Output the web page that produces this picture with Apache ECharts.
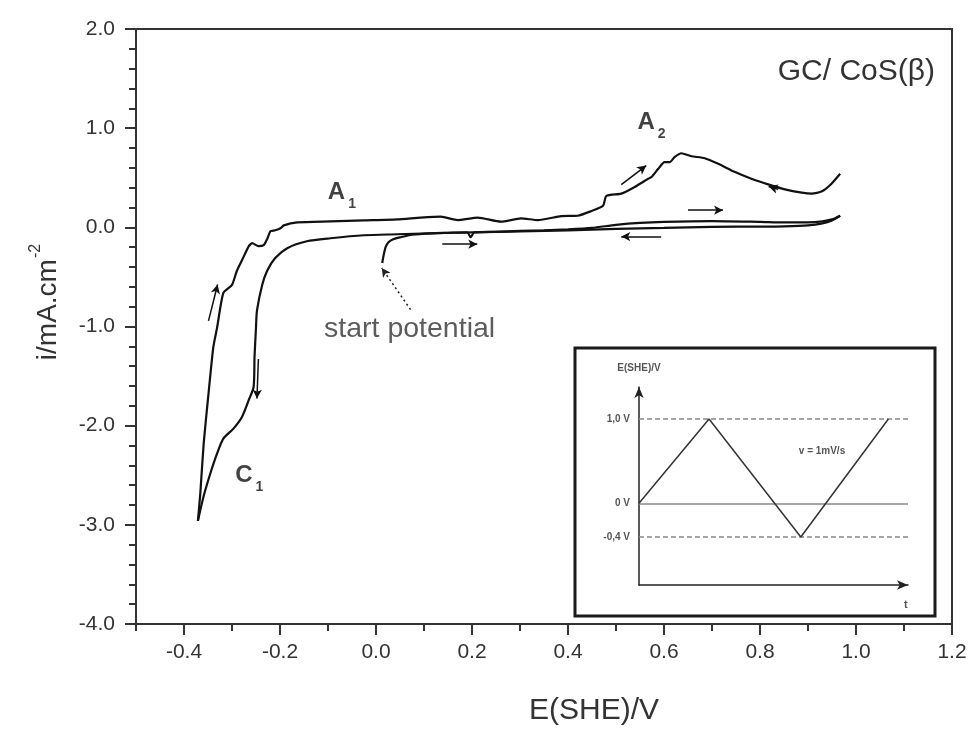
<!DOCTYPE html>
<html>
<head>
<meta charset="utf-8">
<script src="https://cdn.jsdelivr.net/npm/echarts@6/dist/echarts.min.js"></script>
<style>
  html, body { margin: 0; padding: 0; background: #fff; }
  #chart { width: 972px; height: 731px; }
</style>
</head>
<body>
<div id="chart"></div>
<script>
// Cyclic voltammogram of GC/CoS(beta), potentials vs SHE (V), current density (mA/cm2)

// 1st anodic sweep: start potential -> +0.97 V
const sweep1E = [0.013, 0.016, 0.020, 0.026, 0.036, 0.051, 0.075, 0.114, 0.150, 0.190, 0.197, 0.205, 0.250, 0.300, 0.350, 0.400, 0.450, 0.500, 0.550, 0.600, 0.700, 0.800, 0.850, 0.900, 0.930, 0.950, 0.967];
const sweep1I = [-0.36, -0.28, -0.20, -0.15, -0.12, -0.10, -0.075, -0.06, -0.055, -0.05, -0.10, -0.05, -0.045, -0.035, -0.03, -0.02, -0.005, 0.025, 0.045, 0.055, 0.062, 0.055, 0.05, 0.05, 0.06, 0.08, 0.117];

// cathodic sweep: +0.97 V -> -0.37 V (peak C1)
const sweep2E = [0.967, 0.950, 0.930, 0.900, 0.850, 0.800, 0.700, 0.600, 0.500, 0.400, 0.300, 0.200, 0.114, 0.044, -0.025, -0.095, -0.144, -0.185, -0.210, -0.227, -0.237, -0.248, -0.250, -0.253, -0.255, -0.265, -0.279, -0.297, -0.318, -0.331, -0.345, -0.359, -0.371];
const sweep2I = [0.117, 0.07, 0.04, 0.02, 0.01, 0.007, 0.005, -0.005, -0.015, -0.03, -0.04, -0.05, -0.06, -0.07, -0.08, -0.11, -0.14, -0.21, -0.31, -0.44, -0.58, -0.84, -1.01, -1.30, -1.61, -1.74, -1.91, -2.03, -2.13, -2.28, -2.48, -2.71, -2.96];

// 2nd anodic sweep: -0.37 V -> +0.97 V (peaks A1, A2)
const sweep3E = [-0.371, -0.366, -0.359, -0.349, -0.339, -0.331, -0.318, -0.300, -0.290, -0.279, -0.265, -0.258, -0.245, -0.234, -0.226, -0.220, -0.210, -0.199, -0.192, -0.164, -0.095, -0.025, 0.044, 0.093, 0.135, 0.170, 0.212, 0.260, 0.302, 0.337, 0.386, 0.420, 0.448, 0.473, 0.480, 0.511, 0.539, 0.567, 0.574, 0.588, 0.601, 0.612, 0.622, 0.636, 0.657, 0.685, 0.713, 0.748, 0.782, 0.817, 0.852, 0.887, 0.908, 0.929, 0.949, 0.967];
const sweep3I = [-2.96, -2.68, -2.18, -1.68, -1.21, -1.01, -0.66, -0.58, -0.44, -0.33, -0.19, -0.16, -0.19, -0.18, -0.11, -0.04, -0.03, -0.01, 0.02, 0.05, 0.06, 0.07, 0.08, 0.097, 0.107, 0.073, 0.097, 0.057, 0.09, 0.073, 0.113, 0.117, 0.163, 0.217, 0.317, 0.34, 0.407, 0.49, 0.507, 0.59, 0.657, 0.657, 0.707, 0.747, 0.717, 0.697, 0.64, 0.557, 0.49, 0.433, 0.383, 0.35, 0.34, 0.363, 0.44, 0.54];

// main axis tick labels
const xTickLabels = [-0.4, -0.2, 0.0, 0.2, 0.4, 0.6, 0.8, 1.0, 1.2];
const yTickLabels = [-4, -3, -2, -1, 0, 1, 2];

// scan-direction arrows [E from, i from, E to, i to]
const scanArrows = [
  [-0.349, -0.943, -0.330, -0.577],
  [-0.245, -1.327, -0.248, -1.727],
  [0.138, -0.17, 0.211, -0.17],
  [0.594, -0.093, 0.511, -0.093],
  [0.650, 0.173, 0.723, 0.173],
  [0.511, 0.43, 0.563, 0.623],
  [0.838, 0.385, 0.818, 0.412]
];
// dotted pointer to the start potential
const startPointer = [0.072, -0.83, 0.012, -0.41];

// peak labels and notes [E, i, text]
const notes = [
  [-0.071, 0.345, '{m|A}{s|1}'],
  [0.574, 1.05, '{m|A}{s|2}'],
  [-0.264, -2.51, '{m|C}{s|1}'],
  [0.070, -1.03, '{t|start potential}']
];

// inset: applied potential programme, v = 1 mV/s
const waveT = [0, 1.0, 2.31, 3.56];
const waveE = [0, 1.0, -0.4, 1.0];
const waveLevels = [1.0, 0, -0.4];

const zip = (a, b) => a.map((v, k) => [v, b[k]]);
const FONT = '"Liberation Sans", Arial, Helvetica, sans-serif';
const INK = '#111';
const AX = '#333';

const chart = echarts.init(document.getElementById('chart'), null, { renderer: 'canvas' });

const curveStyle = { color: INK, width: 2.2 };

const option = {
  animation: false,
  backgroundColor: '#fff',
  title: {
    text: 'GC/ CoS(\u03b2)',
    right: 37,
    top: 57,
    padding: 0,
    textStyle: { fontFamily: FONT, fontSize: 30, fontWeight: 'normal', color: '#333' }
  },
  grid: [
    { left: 136, right: 20, top: 29, bottom: 102, show: true, borderColor: AX, borderWidth: 2, backgroundColor: 'transparent' },
    { left: 639, top: 387, width: 269, height: 198 }
  ],
  xAxis: [
    {
      gridIndex: 0, type: 'value', min: -0.5, max: 1.2,
      axisLine: { onZero: false, lineStyle: { color: AX, width: 2 } },
      axisTick: { customValues: xTickLabels, length: 11, lineStyle: { color: AX, width: 2 } },
      axisLabel: {
        customValues: xTickLabels, margin: 18,
        formatter: v => v.toFixed(1),
        fontFamily: FONT, fontSize: 21, color: '#333'
      },
      splitLine: { show: false },
      name: 'E(SHE)/V', nameLocation: 'middle', nameGap: 72,
      nameTextStyle: { fontFamily: FONT, fontSize: 30, color: '#333', padding: [0, 0, 0, 100] }
    },
    {
      // odd tenths: short ticks
      gridIndex: 0, type: 'value', min: -0.5, max: 1.2, interval: 0.1, position: 'bottom',
      axisLine: { show: false, onZero: false },
      axisTick: { length: 7, lineStyle: { color: AX, width: 2 } },
      axisLabel: { show: false },
      splitLine: { show: false }
    },
    {
      gridIndex: 1, type: 'value', min: 0, max: 3.84,
      axisLine: { onZero: false, symbol: ['none', 'arrow'], symbolSize: [7, 11], lineStyle: { color: '#222', width: 1.5 } },
      axisTick: { show: false }, axisLabel: { show: false }, splitLine: { show: false },
      name: 't', nameLocation: 'end', nameGap: -4,
      nameTextStyle: { fontFamily: FONT, fontSize: 11, fontWeight: 'bold', color: '#555', verticalAlign: 'top', padding: [14, 0, 0, 0] }
    }
  ],
  yAxis: [
    {
      gridIndex: 0, type: 'value', min: -4, max: 2, interval: 1,
      axisLine: { onZero: false, lineStyle: { color: AX, width: 2 } },
      axisTick: { length: 11, lineStyle: { color: AX, width: 2 } },
      minorTick: { show: true, splitNumber: 5, length: 7, lineStyle: { color: AX, width: 2 } },
      axisLabel: { margin: 21, formatter: v => v.toFixed(1), fontFamily: FONT, fontSize: 21, color: '#333' },
      splitLine: { show: false }
    },
    {
      gridIndex: 1, type: 'value', min: -0.97, max: 1.38,
      axisLine: { onZero: false, symbol: ['none', 'arrow'], symbolSize: [7, 11], lineStyle: { color: '#222', width: 1.5 } },
      axisTick: { show: false },
      axisLabel: {
        customValues: waveLevels, margin: 9,
        formatter: v => (v === 0 ? '0' : v.toFixed(1).replace('.', ',')) + ' V',
        fontFamily: FONT, fontSize: 10, fontWeight: 'bold', color: '#555'
      },
      splitLine: { show: false },
      name: 'E(SHE)/V', nameLocation: 'end', nameGap: 14,
      nameTextStyle: { fontFamily: FONT, fontSize: 10, fontWeight: 'bold', color: '#555', align: 'center' }
    }
  ],
  graphic: [
    {
      type: 'rect', z: -10,
      shape: { x: 575, y: 348, width: 360, height: 268 },
      style: { fill: '#fff', stroke: '#1a1a1a', lineWidth: 3 }
    },
    {
      type: 'text', z: 10, x: 822, y: 451,
      style: { text: 'v = 1mV/s', font: 'bold 10px ' + FONT, fill: '#555', align: 'center', verticalAlign: 'middle' }
    },
    {
      type: 'text', z: 10, x: 45, y: 302, rotation: Math.PI / 2,
      style: {
        text: '{a|i/mA.cm}{b|-2}',
        align: 'center', verticalAlign: 'middle',
        rich: {
          a: { fontFamily: FONT, fontSize: 28, fill: '#333', verticalAlign: 'bottom', lineHeight: 34 },
          b: { fontFamily: FONT, fontSize: 16, fill: '#333', verticalAlign: 'top', lineHeight: 34, padding: [0, 0, 0, 1] }
        }
      }
    }
  ],
  series: [
    {
      type: 'line', xAxisIndex: 0, yAxisIndex: 0, data: zip(sweep1E, sweep1I),
      showSymbol: false, smooth: 0.25, lineStyle: curveStyle, z: 3,
      markLine: {
        silent: true, symbol: ['none', 'arrow'], symbolSize: [7, 9], label: { show: false },
        lineStyle: { color: INK, width: 1.5, type: 'solid' },
        data: scanArrows.map(a => [{ coord: [a[0], a[1]] }, { coord: [a[2], a[3]] }])
          .concat([[
            { coord: [startPointer[0], startPointer[1]], lineStyle: { type: [2, 3], width: 1.5, color: '#222' } },
            { coord: [startPointer[2], startPointer[3]] }
          ]])
      }
    },
    { type: 'line', xAxisIndex: 0, yAxisIndex: 0, data: zip(sweep2E, sweep2I), showSymbol: false, smooth: 0.25, lineStyle: curveStyle, z: 3 },
    { type: 'line', xAxisIndex: 0, yAxisIndex: 0, data: zip(sweep3E, sweep3I), showSymbol: false, smooth: 0.2, lineStyle: curveStyle, z: 3 },
    {
      type: 'scatter', xAxisIndex: 0, yAxisIndex: 0, symbolSize: 0, silent: true,
      data: notes.map(n => ({ value: [n[0], n[1]], text: n[2] })),
      label: {
        show: true, position: 'inside',
        formatter: p => p.data.text,
        rich: {
          m: { fontFamily: FONT, fontSize: 24, fontWeight: 'bold', color: INK, verticalAlign: 'top', lineHeight: 26 },
          s: { fontFamily: FONT, fontSize: 14, fontWeight: 'bold', color: INK, verticalAlign: 'top', lineHeight: 26, padding: [17, 0, 0, 3] },
          t: { fontFamily: FONT, fontSize: 28.5, color: '#333' }
        }
      }
    },
    {
      type: 'line', xAxisIndex: 2, yAxisIndex: 1, data: zip(waveT, waveE),
      showSymbol: false, lineStyle: { color: '#333', width: 1.5 }, z: 5,
      markLine: {
        silent: true, symbol: 'none', label: { show: false },
        data: waveLevels.map(v => ({
          yAxis: v,
          lineStyle: { color: '#888', width: 1.5, type: v === 0 ? 'solid' : [5, 3] }
        }))
      }
    }
  ]
};

chart.setOption(option);
</script>
</body>
</html>
